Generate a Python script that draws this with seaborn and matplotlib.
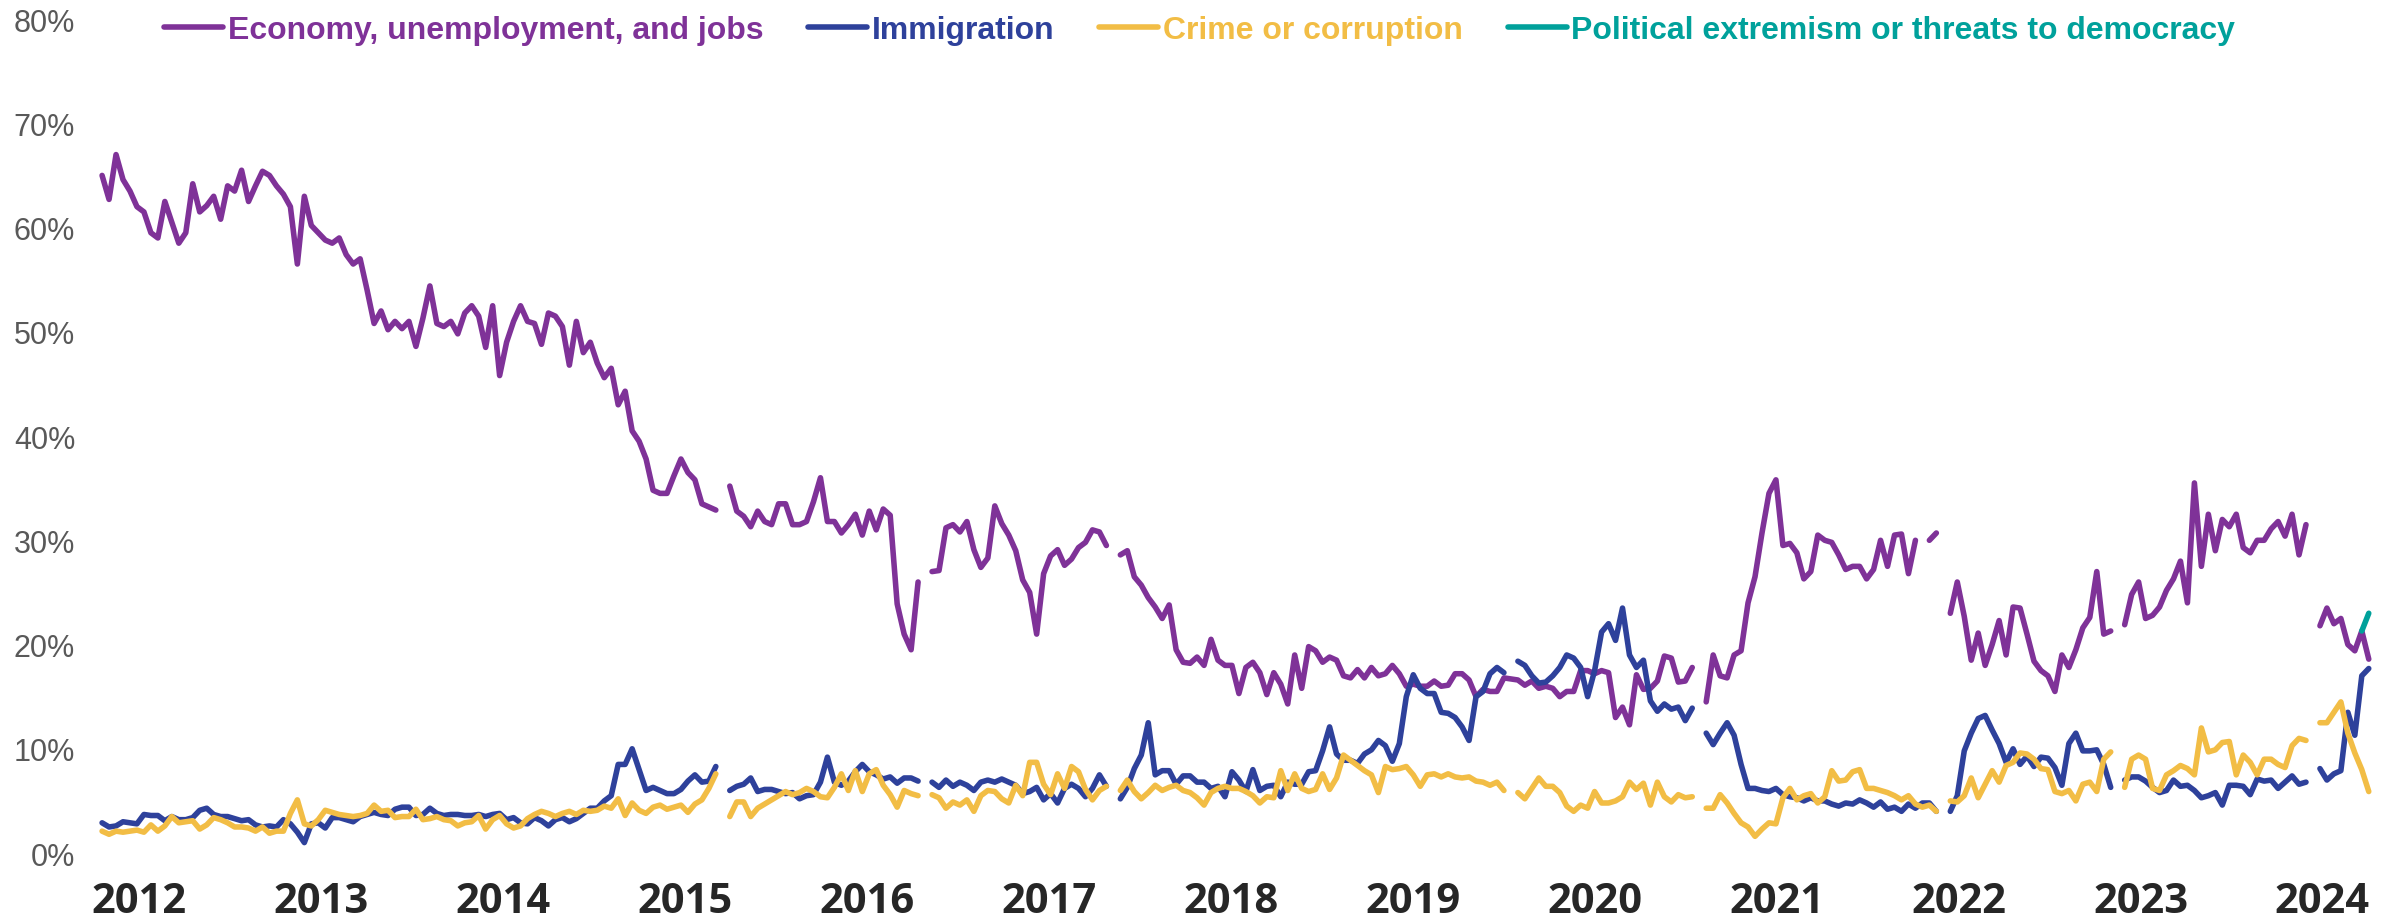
import numpy as np
import pandas as pd
import matplotlib
matplotlib.use("Agg")
import matplotlib.pyplot as plt
import seaborn as sns
from matplotlib.lines import Line2D

nan = np.nan

# Valores (em %), uma leitura a cada 2 semanas; nan = falha na série
economy = [
    65, 62.7, 67, 64.6, 63.5, 62, 61.5, 59.5, 59, 62.5,
    60.5, 58.5, 59.5, 64.2, 61.5, 62.1, 63, 60.8, 64, 63.5,
    65.5, 62.5, 64, 65.4, 65, 64, 63.2, 62, 56.5, 63,
    60.2, 59.5, 58.8, 58.5, 59, 57.4, 56.5, 57, 54, 50.8,
    52, 50.2, 51, 50.3, 51, 48.6, 51.3, 54.4, 50.8, 50.5,
    51, 49.8, 51.8, 52.5, 51.5, 48.5, 52.5, 45.8, 49, 51,
    52.5, 51, 50.8, 48.8, 51.8, 51.5, 50.5, 46.8, 51, 48,
    49, 47, 45.6, 46.5, 43, 44.3, 40.5, 39.5, 37.8, 34.8,
    34.5, 34.5, 36.2, 37.8, 36.5, 35.8, 33.5, 33.2, 32.9, nan,
    35.2, 32.8, 32.3, 31.3, 32.8, 31.8, 31.5, 33.5, 33.5, 31.5,
    31.5, 31.8, 33.7, 36, 31.8, 31.8, 30.7, 31.5, 32.5, 30.5,
    32.8, 31, 33, 32.4, 23.9, 21, 19.5, 26, nan, 27,
    27.1, 31.2, 31.5, 30.8, 31.8, 29.1, 27.4, 28.3, 33.3, 31.6,
    30.5, 29, 26.2, 25, 21, 26.8, 28.5, 29.1, 27.6, 28.2,
    29.3, 29.8, 31, 30.8, 29.5, nan, 28.6, 29, 26.5, 25.7,
    24.5, 23.6, 22.5, 23.8, 19.5, 18.3, 18.2, 18.8, 18, 20.5,
    18.5, 18, 18, 15.3, 17.8, 18.3, 17.3, 15.2, 17.3, 16.2,
    14.3, 19, 15.8, 19.8, 19.4, 18.3, 18.8, 18.5, 17, 16.8,
    17.6, 16.8, 17.8, 17, 17.2, 18, 17.2, 16, 16.2, 16,
    16, 16.5, 16, 16.1, 17.2, 17.2, 16.6, 15, 15.7, 15.5,
    15.5, 16.8, 16.7, 16.6, 16.1, 16.5, 15.8, 16, 15.8, 15,
    15.5, 15.5, 17.5, 17.5, 17.2, 17.5, 17.3, 13, 14, 12.3,
    17.1, 15.7, 15.8, 16.5, 18.9, 18.7, 16.4, 16.5, 17.8, nan,
    14.5, 19, 17, 16.8, 19, 19.4, 24, 26.5, 30.7, 34.5,
    35.8, 29.5, 29.7, 28.8, 26.3, 27, 30.5, 30, 29.8, 28.6,
    27.2, 27.5, 27.5, 26.3, 27.2, 30, 27.5, 30.5, 30.6, 26.8,
    30, nan, 30, 30.7, nan, 23, 26, 22.7, 18.5, 21.1,
    18, 20, 22.3, 19, 23.6, 23.5, 21, 18.4, 17.5, 17,
    15.5, 19, 17.8, 19.5, 21.6, 22.6, 27, 21, 21.3, nan,
    21.9, 24.8, 26, 22.5, 22.8, 23.6, 25.2, 26.3, 28, 24,
    35.5, 27.5, 32.5, 29, 32, 31.3, 32.5, 29.3, 28.8, 30,
    30, 31.1, 31.8, 30.4, 32.5, 28.6, 31.5, nan, 21.8, 23.5,
    22, 22.5, 20, 19.4, 21.3, 18.6,
]

immigration = [
    2.9, 2.5, 2.6, 3, 2.9, 2.8, 3.7, 3.6, 3.6, 3.1,
    3.5, 3.2, 3.2, 3.4, 4.1, 4.3, 3.7, 3.5, 3.5, 3.3,
    3.1, 3.2, 2.7, 2.5, 2.6, 2.5, 3.2, 2.8, 2, 1,
    2.8, 2.9, 2.4, 3.4, 3.4, 3.2, 3, 3.5, 3.7, 3.9,
    3.7, 3.6, 4.2, 4.4, 4.4, 3.6, 3.7, 4.3, 3.8, 3.6,
    3.7, 3.7, 3.6, 3.6, 3.7, 3.5, 3.7, 3.8, 3.2, 3.4,
    2.9, 2.8, 3.4, 3.1, 2.6, 3.2, 3.4, 3, 3.3, 3.8,
    4.3, 4.3, 5, 5.5, 8.5, 8.5, 10, 8, 6, 6.3,
    6, 5.7, 5.7, 6.1, 6.9, 7.5, 6.8, 6.9, 8.3, nan,
    6, 6.4, 6.6, 7.2, 5.9, 6.1, 6.1, 5.9, 5.7, 5.8,
    5.2, 5.5, 5.6, 6.8, 9.2, 6.8, 6.5, 6.9, 7.8, 8.5,
    7.8, 7.5, 7.1, 7.3, 6.7, 7.2, 7.2, 6.9, nan, 6.8,
    6.3, 7, 6.4, 6.8, 6.5, 6, 6.8, 7, 6.8, 7.1,
    6.8, 6.5, 5.7, 5.9, 6.3, 5.1, 5.7, 4.8, 6.2, 6.6,
    6.2, 5.4, 6.2, 7.5, 6.4, nan, 5.2, 6.3, 8.1, 9.4,
    12.5, 7.5, 7.9, 7.9, 6.6, 7.4, 7.4, 6.8, 6.8, 6.2,
    6.4, 5.4, 7.8, 7, 5.9, 8, 6, 6.4, 6.5, 5.4,
    6.8, 6.6, 6.6, 7.8, 7.9, 9.8, 12.1, 9.5, 8.9, 8.9,
    8.6, 9.5, 9.9, 10.8, 10.3, 8.8, 10.5, 15, 17.1, 15.8,
    15.3, 15.3, 13.5, 13.4, 13, 12.1, 10.8, 15, 15.5, 17.2,
    17.8, 17.3, nan, 18.4, 18, 17, 16.3, 16.4, 17, 17.8,
    19, 18.7, 17.8, 15, 17.5, 21.2, 22, 20.4, 23.5, 19,
    17.8, 18.5, 14.6, 13.6, 14.3, 13.8, 14, 12.7, 13.9, nan,
    11.5, 10.4, 11.5, 12.5, 11.3, 8.5, 6.2, 6.2, 6, 5.9,
    6.2, 5.6, 5.4, 5.3, 5, 5.3, 5, 5, 4.7, 4.5,
    4.8, 4.7, 5.1, 4.8, 4.4, 4.9, 4.2, 4.4, 4, 4.7,
    4.3, 4.8, 4.8, 4, nan, 4, 5.5, 9.8, 11.5, 12.9,
    13.2, 11.8, 10.5, 8.7, 10, 8.5, 9.3, 8.3, 9.2, 9.1,
    8.2, 6.5, 10.5, 11.5, 9.8, 9.8, 9.9, 8.5, 6.3, nan,
    7, 7.3, 7.3, 6.9, 6.3, 5.8, 6, 7, 6.4, 6.5,
    6, 5.3, 5.5, 5.8, 4.6, 6.5, 6.5, 6.4, 5.6, 7.1,
    6.9, 7, 6.2, 6.8, 7.4, 6.6, 6.8, nan, 8.1, 7,
    7.6, 7.9, 13.5, 11.3, 17, 17.7,
]

crime = [
    2.1, 1.8, 2.1, 2, 2.1, 2.2, 2, 2.7, 2.1, 2.6,
    3.5, 2.9, 3, 3.1, 2.3, 2.7, 3.4, 3.2, 2.9, 2.5,
    2.5, 2.4, 2.1, 2.5, 1.9, 2.1, 2.1, 3.8, 5.1, 2.8,
    2.6, 3.2, 4.1, 3.9, 3.7, 3.6, 3.5, 3.6, 3.8, 4.6,
    4, 4.1, 3.4, 3.5, 3.5, 4.2, 3.2, 3.3, 3.5, 3.2,
    3.1, 2.6, 2.9, 3, 3.6, 2.3, 3.2, 3.6, 2.8, 2.4,
    2.6, 3.3, 3.7, 4, 3.8, 3.5, 3.8, 4, 3.7, 4.1,
    4, 4.1, 4.5, 4.3, 5.2, 3.6, 4.8, 4.1, 3.8, 4.4,
    4.6, 4.2, 4.4, 4.6, 3.9, 4.7, 5.1, 6.2, 7.6, nan,
    3.5, 4.9, 4.9, 3.5, 4.3, 4.7, 5.1, 5.5, 5.9, 5.6,
    5.8, 6.2, 5.9, 5.4, 5.3, 6.3, 7.6, 6, 7.9, 5.9,
    7.6, 8, 6.5, 5.6, 4.4, 6, 5.7, 5.5, nan, 5.6,
    5.3, 4.3, 4.9, 4.6, 5.1, 4, 5.5, 6, 5.9, 5.2,
    4.8, 6.5, 5.5, 8.7, 8.7, 6.6, 5.6, 7.6, 6.2, 8.3,
    7.8, 6.1, 5.1, 6, 6.4, nan, 6, 7, 5.9, 5.2,
    5.8, 6.5, 6, 6.3, 6.5, 6, 5.8, 5.3, 4.6, 5.8,
    6.2, 6.4, 6.2, 6.2, 5.9, 5.5, 4.8, 5.4, 5.3, 7.9,
    6, 7.6, 6.2, 5.9, 6.1, 7.6, 6.1, 7.2, 9.4, 8.9,
    8.4, 7.9, 7.5, 5.8, 8.3, 8, 8.1, 8.3, 7.5, 6.4,
    7.5, 7.6, 7.3, 7.6, 7.3, 7.2, 7.3, 6.9, 6.8, 6.5,
    6.8, 6, nan, 5.8, 5.2, 6.2, 7.2, 6.4, 6.4, 5.8,
    4.5, 4, 4.6, 4.3, 5.9, 4.8, 4.8, 5, 5.4, 6.8,
    6.1, 6.7, 4.6, 6.8, 5.4, 4.9, 5.6, 5.3, 5.4, nan,
    4.3, 4.3, 5.6, 4.8, 3.8, 2.9, 2.5, 1.6, 2.3, 2.9,
    2.8, 5.3, 6.2, 5.1, 5.5, 5.7, 4.8, 5.4, 7.9, 6.9,
    7, 7.8, 8, 6.2, 6.2, 6, 5.8, 5.5, 5.1, 5.5,
    4.7, 4.4, 4.6, 4, nan, 5, 4.9, 5.5, 7.2, 5.3,
    6.6, 7.9, 6.8, 8.4, 8.7, 9.6, 9.5, 9, 8.1, 8,
    5.9, 5.7, 6, 5, 6.6, 6.8, 5.9, 9, 9.7, nan,
    6.3, 9, 9.4, 9, 6.2, 6, 7.5, 7.9, 8.4, 8.1,
    7.5, 12, 9.7, 9.9, 10.6, 10.7, 7.5, 9.4, 8.7, 7.5,
    9, 9, 8.5, 8.2, 10.3, 11, 10.8, nan, 12.5, 12.5,
    13.5, 14.5, 11.5, 9.6, 8, 5.9,
]

# só aparece nas duas últimas leituras
extremism_end = [21.3, 23.0]

names = [
    "Economy, unemployment, and jobs",
    "Immigration",
    "Crime or corruption",
    "Political extremism or threats to democracy",
]
cores = ["#7F3298", "#2E419B", "#F2BD45", "#00A19B"]
anos = list(range(2012, 2025))

assert len(economy) == len(immigration) == len(crime)
n = len(economy)
datas = pd.date_range("2011-10-19", periods=n, freq="14D")
extremism = [nan] * (n - len(extremism_end)) + extremism_end

# Montar tabela longa; cada trecho sem falha vira uma "unidade" separada
partes = []
for nome, vals in zip(names, [economy, immigration, crime, extremism]):
    s = pd.Series(vals, dtype=float)
    partes.append(pd.DataFrame({
        "data": datas,
        "valor": s / 100,
        "tema": nome,
        "trecho": nome + "_" + s.isna().cumsum().astype(str),
    }))
df = pd.concat(partes, ignore_index=True).dropna(subset=["valor"])


def ano_decimal(a):
    base = pd.Timestamp(year=int(a), month=1, day=1)
    fim = pd.Timestamp(year=int(a) + 1, month=1, day=1)
    return base + (fim - base) * (a - int(a))


sns.set_style("white")
fig = plt.figure(figsize=(23.99, 9.2), dpi=100)
ax = fig.add_axes([0.04, 0.0717, 0.9504, 0.9065])

sns.lineplot(data=df, x="data", y="valor", hue="tema", units="trecho",
             estimator=None, sort=False, palette=dict(zip(names, cores)),
             hue_order=names, linewidth=4.0, legend=False, ax=ax)

ax.set_xlim(ano_decimal(2011.7636), ano_decimal(2024.2936))
ax.set_ylim(0, 0.8)
ax.set_xticks([pd.Timestamp(f"{a}-01-01") for a in anos])
ax.set_xticklabels([str(a) for a in anos], fontsize=30, fontweight="bold",
                   family="Open Sans", color="#262626")
ax.set_yticks(np.arange(0, 0.81, 0.1))
ax.set_yticklabels([f"{v:.0%}" for v in np.arange(0, 0.81, 0.1)], fontsize=22,
                   family="Liberation Sans", color="#595959")
ax.tick_params(axis="x", length=0, pad=20)
ax.tick_params(axis="y", length=0, pad=15)
ax.set_xlabel("")
ax.set_ylabel("")
ax.grid(False)
for lado in ax.spines.values():
    lado.set_visible(False)

alcas = [Line2D([0], [0], color=c, lw=4.0) for c in cores]
leg = fig.legend(alcas, names, loc="center", bbox_to_anchor=(0.5, 0.966), ncol=4,
                 frameon=False, handlelength=1.85, handletextpad=0.15,
                 columnspacing=1.4,
                 prop={"family": "Liberation Sans", "weight": "bold", "size": 23})
for txt, c in zip(leg.get_texts(), cores):
    txt.set_color(c)

fig.savefig("out.png", dpi=100)
